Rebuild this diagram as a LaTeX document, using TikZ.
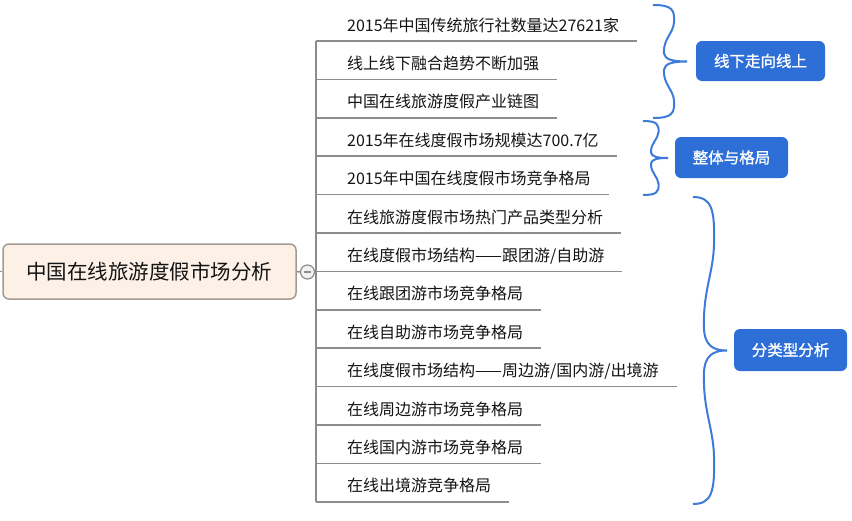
\documentclass[tikz,border=0pt]{standalone}
\usepackage{fontspec}
\newfontfamily\cjk{Noto Sans CJK SC}
\newfontfamily\cjkb[FakeBold=1]{Noto Sans CJK SC}
\usetikzlibrary{calc}
\definecolor{trunkgrey}{HTML}{8C8C8C}
\definecolor{rootfill}{HTML}{FDF1E7}
\definecolor{rootdraw}{HTML}{A39B92}
\definecolor{labblue}{HTML}{2D6FD6}
\definecolor{braceblue}{HTML}{3D7BDA}
\definecolor{ink}{HTML}{141414}
\newcommand\mybrace[4]{%
 \pgfmathsetmacro\bw{#4-#1}\pgfmathsetmacro\bm{(#2+#3)/2}\pgfmathsetmacro\bh{\bm-#2}%
 \draw[bracestyle] (#1,#2) .. controls ({#1+0.55*\bw},#2) and ({#1+0.64*\bw},{#2+0.08*\bh}) .. ({#1+0.62*\bw},{#2+0.3*\bh})
  .. controls ({#1+0.6*\bw},{#2+0.5*\bh}) and ({#1+0.3*\bw},{#2+0.6*\bh}) .. ({#1+0.32*\bw},{#2+0.85*\bh})
  .. controls ({#1+0.34*\bw},{#2+0.97*\bh}) and ({#1+0.6*\bw},\bm) .. (#4,\bm)
  .. controls ({#1+0.6*\bw},\bm) and ({#1+0.34*\bw},{#3-0.97*\bh}) .. ({#1+0.32*\bw},{#3-0.85*\bh})
  .. controls ({#1+0.3*\bw},{#3-0.6*\bh}) and ({#1+0.6*\bw},{#3-0.5*\bh}) .. ({#1+0.62*\bw},{#3-0.3*\bh})
  .. controls ({#1+0.64*\bw},{#3-0.08*\bh}) and ({#1+0.55*\bw},#3) .. (#1,#3);}
\begin{document}
\begin{tikzpicture}[x=1pt,y=-1pt,
 branch/.style={draw=trunkgrey, line width=1.5pt},
 childtext/.style={font=\cjk\fontsize{16pt}{19pt}\selectfont, text=ink, inner sep=0pt, anchor=base west},
 rootbox/.style={draw=rootdraw, fill=rootfill, line width=1.5pt, rounded corners=6pt, minimum width=293pt, minimum height=55pt, inner sep=0pt, font=\cjk\fontsize{20.5pt}{24pt}\selectfont, text=ink},
 labbox/.style={fill=labblue, rounded corners=6pt, inner sep=0pt, text=white, font=\cjkb\fontsize{15.5pt}{18pt}\selectfont},
 bracestyle/.style={draw=braceblue, line width=2pt}]
\useasboundingbox (0,0) rectangle (852,520);
\foreach \i/\t in {1/{2015年中国传统旅行社数量达27621家},2/{线上线下融合趋势不断加强},3/{中国在线旅游度假产业链图},4/{2015年在线度假市场规模达700.7亿},5/{2015年中国在线度假市场竞争格局},6/{在线旅游度假市场热门产品类型分析},7/{在线度假市场结构——跟团游/自助游},8/{在线跟团游市场竞争格局},9/{在线自助游市场竞争格局},10/{在线度假市场结构——周边游/国内游/出境游},11/{在线周边游市场竞争格局},12/{在线国内游市场竞争格局},13/{在线出境游竞争格局}}{
 \pgfmathsetmacro\yy{41+38.4*(\i-1)}
 \coordinate (u\i) at (316,\yy);
 \node[childtext] (c\i) at ($(u\i)+(31,-10)$) {\t};
 \draw[branch] (u\i) -- ($(u\i -| c\i.east)+(18,0)$);
}
\draw[branch] (u1) -- (u13);
\node[rootbox] (root) at (149.5,271.5) {中国在线旅游度假市场分析};
\node[circle, draw=trunkgrey, line width=1.2pt, fill=black!5, minimum size=14pt, inner sep=0pt] (col) at (307.5,272) {};
\draw[draw=trunkgrey, line width=1.2pt] ($(col.center)+(-3.5,0)$) -- ($(col.center)+(3.5,0)$);
\draw[branch] (root.east) -- (col.west);
\draw[branch] (col.east) -- (col.east -| u1);
\draw[branch] (root.west) -- ++(-4,0);
\node[labbox, minimum width=129pt, minimum height=40pt] (l1) at (760.5,61) {线下走向线上};
\node[labbox, minimum width=113pt, minimum height=41pt] (l2) at (731.5,157.5) {整体与格局};
\node[labbox, minimum width=113pt, minimum height=42pt] (l3) at (790.5,350) {分类型分析};
\mybrace{653}{5}{118}{687}
\mybrace{643}{121}{195}{668}
\mybrace{693}{197}{504}{727}
\end{tikzpicture}
\end{document}
